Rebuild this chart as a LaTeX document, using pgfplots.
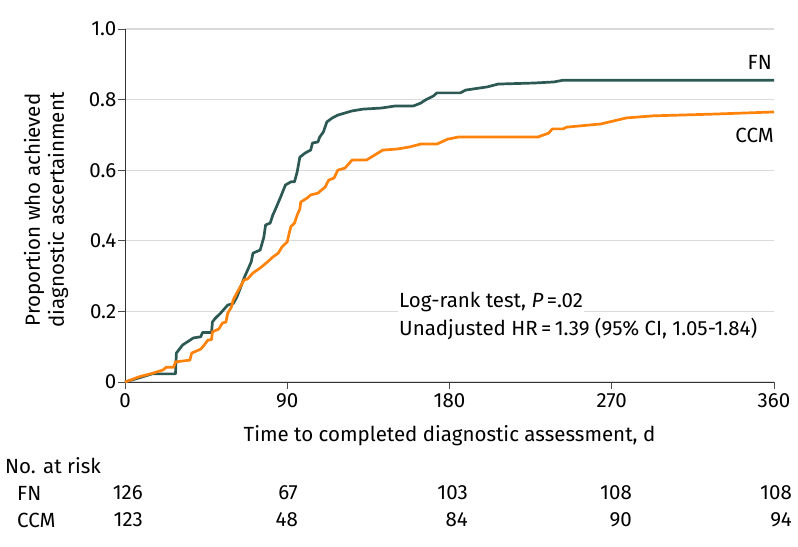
\documentclass[border=0pt]{standalone}
\usepackage{pgfplots}
\pgfplotsset{compat=1.18}
\usepackage{fontspec}
\setmainfont{Fira Sans}
\definecolor{fncol}{RGB}{45,89,84}
\definecolor{ccmcol}{RGB}{255,130,10}
\definecolor{gridc}{RGB}{218,218,218}
\newcommand\fs{\fontsize{20.5bp}{24bp}\selectfont}
\begin{document}
\begin{tikzpicture}[font=\fs]
\path[use as bounding box] (-125bp,-165bp) rectangle (673bp,382bp);
\begin{axis}[
  at={(0,0)}, anchor=south west,
  scale only axis, width=649bp, height=353bp,
  xmin=0, xmax=360, ymin=0, ymax=1,
  axis lines*=left,
  axis line style={line width=0.9pt, black!80, -},
  xtick={0,90,180,270,360},
  xticklabels={0,90,180,270,360},
  ytick={0,0.2,0.4,0.6,0.8,1.0},
  yticklabels={0,0.2,0.4,0.6,0.8,1.0},
  /pgf/number format/assume math mode=true,
  tick align=outside,
  major tick length=7bp,
  tick style={line width=0.8pt, black!70},
  ymajorgrids,
  grid style={gridc, line width=1.3pt},
  yticklabel style={inner sep=1.5bp},
  xticklabel style={inner sep=4bp},
  clip=false,
]
\addplot[fncol, line width=2.7bp, line join=round] coordinates {
(0,0) (8,0.012) (15,0.023) (28,0.023) (28.5,0.082) (32,0.105) (38,0.125) (42,0.128)
(43,0.14) (48,0.14) (48.5,0.17) (50,0.18) (53,0.195) (57,0.218) (60,0.222) (62,0.24)
(64,0.266) (66,0.294) (68,0.317) (70,0.34) (71,0.365) (75,0.374) (77,0.41) (78,0.445)
(80.5,0.45) (82,0.473) (84,0.496) (86,0.52) (89,0.558) (92,0.567) (94,0.567) (95.5,0.595)
(97,0.637) (100,0.649) (103,0.657) (104,0.677) (107,0.68) (108,0.694) (110,0.708)
(112,0.737) (115,0.748) (118,0.756) (122,0.762) (126,0.768) (132,0.773) (142,0.776)
(150,0.782) (160,0.782) (164,0.79) (167,0.80) (171,0.81) (173,0.819) (186,0.819)
(189,0.827) (201,0.836) (207,0.844) (227,0.847) (238,0.85) (243,0.855) (360,0.855)
};
\addplot[ccmcol, line width=2.7bp, line join=round] coordinates {
(0,0) (8,0.015) (15.5,0.025) (21,0.034) (23,0.042) (27,0.042) (28,0.057) (36,0.062)
(37,0.082) (42,0.093) (44,0.105) (46,0.119) (48,0.12) (48.5,0.142) (52,0.15) (54,0.167)
(56,0.17) (57,0.195) (59,0.212) (60,0.232) (62,0.252) (64,0.27) (66,0.289) (68,0.292)
(71,0.309) (75,0.323) (79,0.34) (82,0.354) (85,0.365) (87,0.382) (90,0.397) (91,0.42)
(92,0.44) (94,0.45) (95.5,0.473) (97,0.49) (97.5,0.51) (101,0.521) (103,0.53) (107,0.535)
(109,0.544) (111,0.552) (113,0.572) (116,0.578) (118,0.6) (122,0.606) (126,0.629)
(134,0.629) (143,0.657) (151,0.66) (158,0.666) (164,0.674) (173,0.674) (179,0.688)
(185,0.694) (229,0.694) (235,0.705) (237,0.717) (243,0.717) (245,0.722) (264,0.731)
(278,0.748) (293,0.754) (327,0.759) (360,0.765)
};
\end{axis}
% series labels
\node[anchor=east, inner sep=0pt] at (647bp,320bp) {FN};
\node[anchor=east, inner sep=0pt] at (649bp,247bp) {CCM};
% statistics
\node[anchor=west, inner sep=1bp, fill=white] at (273bp,80bp) {Log-rank test, \textit{P}\,=.02};
\node[anchor=west, inner sep=1bp, fill=white] at (273bp,53bp) {Unadjusted HR\,=\,1.39 (95\% CI, 1.05-1.84)};
% axis titles
\node at (324.5bp,-54bp) {Time to completed diagnostic assessment, d};
\node[rotate=90, align=center] at (-79bp,172bp) {Proportion who achieved\\diagnostic ascertainment};
% number at risk
\node[anchor=west, inner sep=0pt] at (-120bp,-84bp) {No. at risk};
\node[anchor=west, inner sep=0pt] at (-108bp,-111bp) {FN};
\node[anchor=west, inner sep=0pt] at (-108bp,-138bp) {CCM};
\node[anchor=east, inner sep=0pt] at (18bp,-111bp) {126};
\node[anchor=east, inner sep=0pt] at (173bp,-111bp) {67};
\node[anchor=east, inner sep=0pt] at (343bp,-111bp) {103};
\node[anchor=east, inner sep=0pt] at (507bp,-111bp) {108};
\node[anchor=east, inner sep=0pt] at (667bp,-111bp) {108};
\node[anchor=east, inner sep=0pt] at (18bp,-138bp) {123};
\node[anchor=east, inner sep=0pt] at (173bp,-138bp) {48};
\node[anchor=east, inner sep=0pt] at (343bp,-138bp) {84};
\node[anchor=east, inner sep=0pt] at (507bp,-138bp) {90};
\node[anchor=east, inner sep=0pt] at (667bp,-138bp) {94};
\end{tikzpicture}
\end{document}
